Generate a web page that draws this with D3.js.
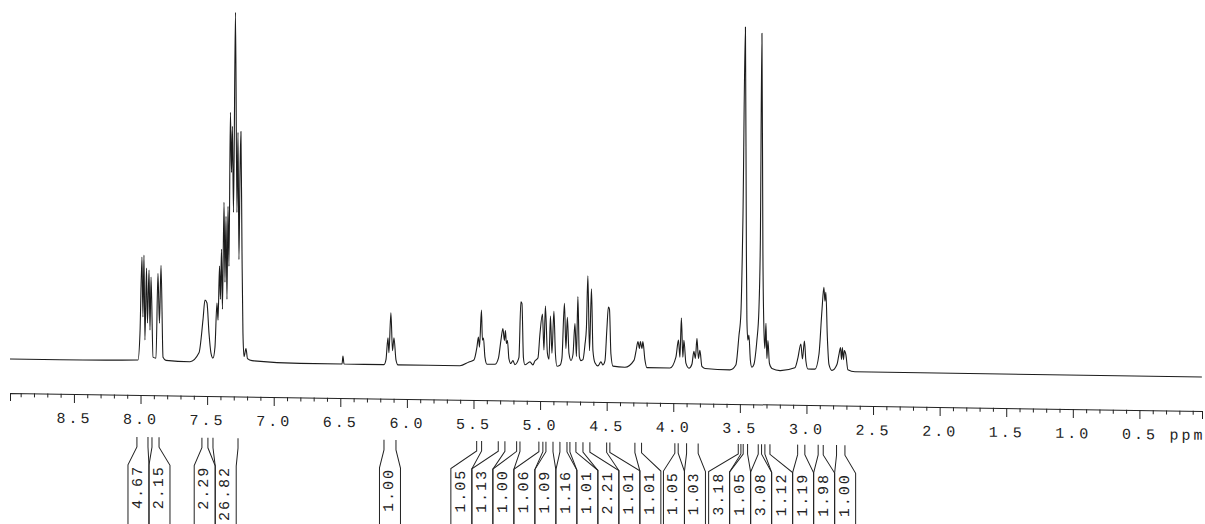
<!DOCTYPE html>
<html lang="en">
<head>
<meta charset="UTF-8">
<title>1H NMR spectrum</title>
<script src="https://d3js.org/d3.v7.min.js"></script>
<style>
  body { margin: 0; background: #fff; }
  svg { display: block; }
  text { font-family: "Liberation Mono", "DejaVu Sans Mono", monospace; fill: #222; }
</style>
</head>
<body>
<svg width="1205" height="524"></svg>
<script>
// chemical shift (ppm), intensity (a.u.)
const spectrum = [
  [8.980, 0], [8.605, 0], [8.019, 1], [8.004, 28], [7.989, 104], [7.982, 44], [7.974, 106],
  [7.967, 21], [7.955, 93], [7.948, 38], [7.936, 91], [7.929, 31], [7.921, 84], [7.906, 4],
  [7.884, 3], [7.869, 88], [7.858, 38], [7.846, 96], [7.831, 4], [7.809, 1], [7.629, 0],
  [7.561, 9], [7.531, 42], [7.516, 62], [7.501, 59], [7.486, 29], [7.471, 9], [7.456, 4],
  [7.441, 15], [7.426, 59], [7.418, 42], [7.407, 96], [7.400, 63], [7.392, 113], [7.385, 53],
  [7.373, 160], [7.366, 80], [7.358, 146], [7.351, 63], [7.343, 156], [7.336, 96], [7.325, 250],
  [7.317, 190], [7.310, 236], [7.302, 150], [7.287, 350], [7.276, 150], [7.268, 230], [7.261, 103],
  [7.253, 190], [7.246, 231], [7.238, 110], [7.231, 30], [7.223, 6], [7.208, 14], [7.197, 4],
  [7.163, 2], [6.803, 0], [6.487, 0], [6.480, 8], [6.472, 0], [6.172, 0], [6.157, 5],
  [6.142, 27], [6.135, 12], [6.120, 52], [6.108, 14], [6.097, 27], [6.082, 5], [6.067, 0],
  [5.602, 0], [5.534, 4], [5.497, 6], [5.474, 19], [5.463, 29], [5.455, 19], [5.440, 56],
  [5.433, 26], [5.425, 28], [5.414, 9], [5.399, 2], [5.339, 2], [5.313, 8], [5.294, 26],
  [5.279, 38], [5.268, 26], [5.260, 36], [5.253, 23], [5.245, 26], [5.234, 8], [5.219, 3],
  [5.204, 6], [5.189, 2], [5.159, 9], [5.144, 65], [5.136, 63], [5.125, 9], [5.114, 2],
  [5.076, 5], [5.054, 2], [5.039, 6], [5.016, 9], [5.001, 33], [4.982, 53], [4.971, 17],
  [4.960, 61], [4.945, 14], [4.933, 8], [4.922, 51], [4.911, 14], [4.896, 56], [4.885, 14],
  [4.873, 1], [4.851, 2], [4.836, 9], [4.817, 64], [4.806, 19], [4.795, 50], [4.783, 14],
  [4.768, 7], [4.753, 13], [4.738, 44], [4.727, 11], [4.716, 71], [4.705, 11], [4.693, 7],
  [4.678, 8], [4.663, 23], [4.652, 40], [4.641, 92], [4.629, 17], [4.614, 79], [4.603, 17],
  [4.588, 5], [4.566, 2], [4.543, 6], [4.528, 3], [4.513, 7], [4.498, 40], [4.487, 61],
  [4.479, 59], [4.468, 14], [4.453, 2], [4.363, 1], [4.295, 8], [4.280, 17], [4.265, 27],
  [4.254, 20], [4.247, 27], [4.235, 20], [4.228, 27], [4.213, 9], [4.198, 1], [4.025, 1],
  [3.980, 12], [3.961, 29], [3.950, 12], [3.939, 51], [3.928, 12], [3.920, 29], [3.905, 6],
  [3.882, 1], [3.860, 5], [3.845, 18], [3.834, 11], [3.822, 31], [3.811, 11], [3.800, 19],
  [3.785, 3], [3.762, 1], [3.575, 0], [3.530, 5], [3.507, 34], [3.492, 57], [3.477, 150],
  [3.458, 343], [3.451, 120], [3.447, 50], [3.440, 30], [3.432, 35], [3.421, 10], [3.410, 3],
  [3.394, 6], [3.379, 20], [3.372, 30], [3.357, 60], [3.346, 130], [3.334, 337], [3.327, 120],
  [3.319, 40], [3.312, 22], [3.304, 47], [3.297, 12], [3.289, 30], [3.278, 7], [3.259, 2],
  [3.199, 0], [3.087, 3], [3.064, 13], [3.042, 27], [3.030, 12], [3.015, 30], [3.004, 10],
  [2.989, 2], [2.936, 2], [2.906, 17], [2.884, 60], [2.869, 84], [2.861, 70], [2.854, 79],
  [2.843, 34], [2.831, 7], [2.809, 1], [2.771, 7], [2.756, 17], [2.744, 24], [2.737, 12],
  [2.730, 24], [2.722, 12], [2.715, 21], [2.704, 17], [2.689, 2], [2.636, 0], [0.031, 0]
];

const majorTicks = [8.5, 8.0, 7.5, 7.0, 6.5, 6.0, 5.5, 5.0, 4.5, 4.0, 3.5, 3.0, 2.5, 2.0, 1.5, 1.0, 0.5];

// integrals: value and region limits (ppm)
const integralValues = [4.67, 2.15, 2.29, 26.82, 1.00, 1.05, 1.13, 1.00, 1.06, 1.09, 1.16, 1.01,
  2.21, 1.01, 1.01, 1.05, 1.03, 3.18, 1.05, 3.08, 1.12, 1.19, 1.98, 1.00];
const integralFrom = [8.027, 7.914, 7.539, 7.456, 6.172, 5.476, 5.314, 5.176, 5.009, 4.956, 4.851, 4.776,
  4.678, 4.500, 4.288, 3.988, 3.900, 3.512, 3.475, 3.362, 3.312, 3.066, 2.912, 2.774];
const integralTo = [7.944, 7.861, 7.494, 7.268, 6.082, 5.439, 5.264, 5.151, 4.979, 4.903, 4.798, 4.731,
  4.626, 4.476, 4.238, 3.963, 3.813, 3.492, 3.442, 3.337, 3.274, 3.012, 2.874, 2.711];

const svg = d3.select("svg");

const x = d3.scaleLinear().domain([8.98, 0.03]).range([10, 1202]);
const y = d3.scaleLinear().domain([0, 350]).range([359, 9]);
const axisY = 393;

// the scanned sheet runs slightly downhill to the right
const slope = 0.0151;
const chart = svg.append("g")
  .attr("transform", "translate(0," + (-slope * 10) + ") skewY(" + (Math.atan(slope) * 180 / Math.PI) + ")");

chart.append("path")
  .datum(spectrum)
  .attr("fill", "none")
  .attr("stroke", "#1c1c1c")
  .attr("stroke-width", 1.1)
  .attr("stroke-linejoin", "round")
  .attr("d", d3.line().x(d => x(d[0])).y(d => y(d[1])).curve(d3.curveMonotoneX));

// ppm axis
const minorTicks = d3.range(1, 90).map(i => i / 10).filter(v => Math.round(v * 10) % 5 !== 0);

const minor = chart.append("g")
  .attr("transform", "translate(0," + axisY + ")")
  .call(d3.axisBottom(x).tickValues(minorTicks).tickSize(4).tickFormat(""));
minor.select(".domain").remove();
minor.selectAll(".tick line").attr("stroke", "#222");

const axis = chart.append("g")
  .attr("transform", "translate(0," + axisY + ")")
  .call(d3.axisBottom(x).tickValues(majorTicks).tickSize(9).tickSizeOuter(8).tickFormat(d3.format(".1f")))
  .attr("font-size", 15);
axis.select(".domain").attr("stroke", "#222");
axis.selectAll(".tick line").attr("stroke", "#222");
axis.selectAll(".tick text")
  .attr("y", 29)
  .attr("dy", null)
  .attr("letter-spacing", 3);

chart.append("text")
  .attr("x", x(0.5) + 30)
  .attr("y", axisY + 29)
  .attr("font-size", 15)
  .attr("letter-spacing", 3)
  .text("ppm");

// integral labels under the axis
const iSlope = 0.0116;
const ig = svg.append("g")
  .attr("transform", "translate(0," + (-iSlope * 140) + ") skewY(" + (Math.atan(iSlope) * 180 / Math.PI) + ")");

const tickTop = 437, tickBot = 447, slantEnd = 465, textTop = 465, boxW = 21;

const desired = integralValues.map((v, i) => (x(integralFrom[i]) + x(integralTo[i])) / 2);

// push overlapping label boxes apart, centring each crowd on its regions
let groups = desired.map((c, i) => ({ ids: [i], c: c }));
let merged = true;
while (merged) {
  merged = false;
  for (let i = 0; i < groups.length - 1; i++) {
    const a = groups[i], b = groups[i + 1];
    if (a.c + a.ids.length * boxW / 2 > b.c - b.ids.length * boxW / 2) {
      const ids = a.ids.concat(b.ids);
      groups.splice(i, 2, { ids: ids, c: d3.mean(ids, k => desired[k]) });
      merged = true;
      break;
    }
  }
}
const boxLeft = [];
groups.forEach(g => {
  g.ids.forEach((k, j) => { boxLeft[k] = g.c - g.ids.length * boxW / 2 + j * boxW; });
});

integralValues.forEach((v, i) => {
  const xa = x(integralFrom[i]), xb = x(integralTo[i]);
  const bl = boxLeft[i], br = bl + boxW;
  ig.append("path")
    .attr("fill", "none")
    .attr("stroke", "#222")
    .attr("stroke-width", 1)
    .attr("d", "M" + xa + "," + tickTop + "V" + tickBot + "L" + bl + "," + slantEnd + "V540" +
               "M" + xb + "," + tickTop + "V" + tickBot + "L" + br + "," + slantEnd + "V540");
  ig.append("text")
    .attr("transform", "translate(" + (bl + boxW / 2) + "," + textTop + ") rotate(-90)")
    .attr("text-anchor", "end")
    .attr("dominant-baseline", "central")
    .attr("font-size", 15)
    .attr("letter-spacing", 2)
    .text(d3.format(".2f")(v));
});
</script>
</body>
</html>
